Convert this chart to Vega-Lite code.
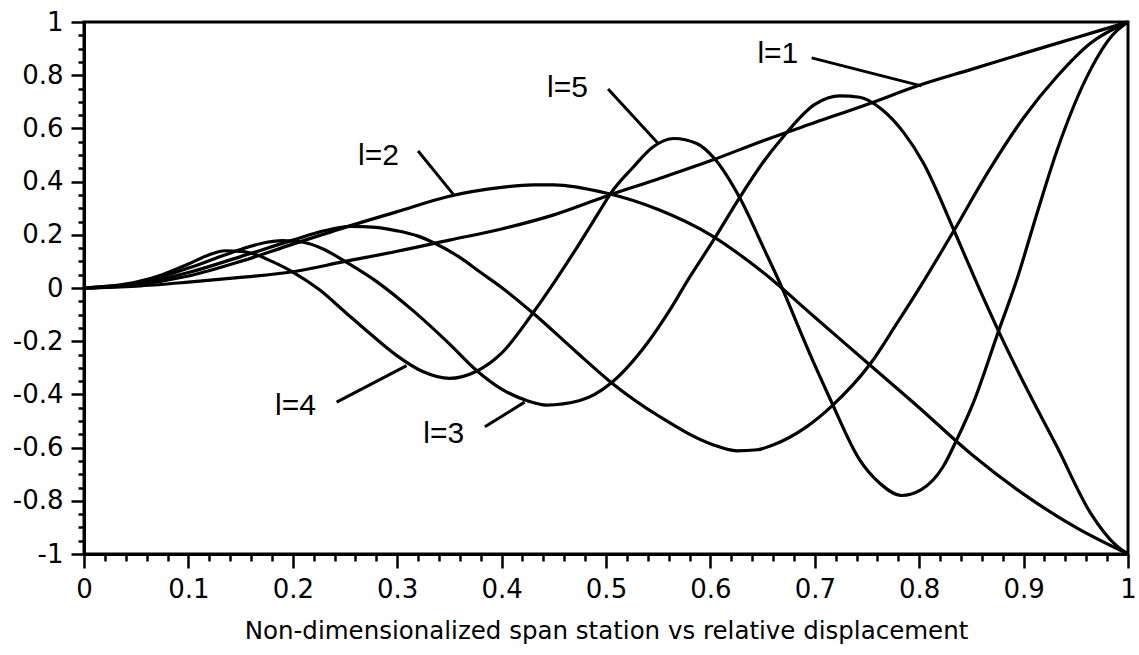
{
  "$schema": "https://vega.github.io/schema/vega-lite/v6.json",
  "width": 1044,
  "height": 532,
  "autosize": {"type": "none"},
  "padding": {"left": 84, "top": 22, "right": 11, "bottom": 101},
  "background": "white",
  "config": {
    "view": {"stroke": "black", "strokeWidth": 3},
    "axis": {"grid": false, "domainColor": "black", "domainWidth": 3, "tickColor": "black", "tickWidth": 2.5, "labelColor": "black", "labelFont": "DejaVu Sans", "labelFontSize": 26, "labelOverlap": false, "labelBound": false, "labelFlush": false, "titleColor": "black", "titleFont": "DejaVu Sans", "titleFontSize": 24.5, "titleFontWeight": "normal"}
  },
  "resolve": {"axis": {"x": "independent", "y": "independent"}},
  "datasets": {
    "curves": [
      {"s":"1","x":0,"y":0},{"s":"1","x":0.05,"y":0.007},{"s":"1","x":0.1,"y":0.022},{"s":"1","x":0.15,"y":0.04},{"s":"1","x":0.2,"y":0.061},{"s":"1","x":0.25,"y":0.1},{"s":"1","x":0.3,"y":0.138},{"s":"1","x":0.35,"y":0.18},{"s":"1","x":0.4,"y":0.222},{"s":"1","x":0.45,"y":0.275},{"s":"1","x":0.5,"y":0.345},{"s":"1","x":0.55,"y":0.41},{"s":"1","x":0.6,"y":0.478},{"s":"1","x":0.65,"y":0.553},{"s":"1","x":0.7,"y":0.622},{"s":"1","x":0.75,"y":0.69},{"s":"1","x":0.8,"y":0.762},{"s":"1","x":0.85,"y":0.822},{"s":"1","x":0.9,"y":0.882},{"s":"1","x":0.95,"y":0.941},{"s":"1","x":1,"y":1},
      {"s":"2","x":0,"y":0},{"s":"2","x":0.05,"y":0.012},{"s":"2","x":0.1,"y":0.045},{"s":"2","x":0.15,"y":0.1},{"s":"2","x":0.2,"y":0.165},{"s":"2","x":0.25,"y":0.228},{"s":"2","x":0.3,"y":0.287},{"s":"2","x":0.35,"y":0.345},{"s":"2","x":0.4,"y":0.378},{"s":"2","x":0.43,"y":0.388},{"s":"2","x":0.45,"y":0.388},{"s":"2","x":0.5,"y":0.357},{"s":"2","x":0.55,"y":0.295},{"s":"2","x":0.6,"y":0.2},{"s":"2","x":0.65,"y":0.06},{"s":"2","x":0.7,"y":-0.11},{"s":"2","x":0.75,"y":-0.28},{"s":"2","x":0.8,"y":-0.45},{"s":"2","x":0.85,"y":-0.625},{"s":"2","x":0.9,"y":-0.775},{"s":"2","x":0.95,"y":-0.9},{"s":"2","x":1,"y":-1},
      {"s":"3","x":0,"y":0},{"s":"3","x":0.05,"y":0.015},{"s":"3","x":0.1,"y":0.058},{"s":"3","x":0.15,"y":0.118},{"s":"3","x":0.2,"y":0.18},{"s":"3","x":0.23,"y":0.215},{"s":"3","x":0.255,"y":0.232},{"s":"3","x":0.28,"y":0.228},{"s":"3","x":0.3,"y":0.215},{"s":"3","x":0.32,"y":0.195},{"s":"3","x":0.335,"y":0.17},{"s":"3","x":0.36,"y":0.115},{"s":"3","x":0.38,"y":0.058},{"s":"3","x":0.4,"y":0.002},{"s":"3","x":0.43,"y":-0.094},{"s":"3","x":0.47,"y":-0.235},{"s":"3","x":0.504,"y":-0.352},{"s":"3","x":0.552,"y":-0.485},{"s":"3","x":0.603,"y":-0.59},{"s":"3","x":0.625,"y":-0.612},{"s":"3","x":0.645,"y":-0.608},{"s":"3","x":0.66,"y":-0.59},{"s":"3","x":0.692,"y":-0.522},{"s":"3","x":0.716,"y":-0.445},{"s":"3","x":0.753,"y":-0.286},{"s":"3","x":0.778,"y":-0.137},{"s":"3","x":0.804,"y":0.024},{"s":"3","x":0.833,"y":0.214},{"s":"3","x":0.865,"y":0.43},{"s":"3","x":0.9,"y":0.64},{"s":"3","x":0.932,"y":0.795},{"s":"3","x":0.964,"y":0.92},{"s":"3","x":1,"y":1},
      {"s":"4","x":0,"y":0},{"s":"4","x":0.05,"y":0.018},{"s":"4","x":0.1,"y":0.075},{"s":"4","x":0.125,"y":0.11},{"s":"4","x":0.15,"y":0.145},{"s":"4","x":0.175,"y":0.172},{"s":"4","x":0.19,"y":0.178},{"s":"4","x":0.21,"y":0.172},{"s":"4","x":0.23,"y":0.145},{"s":"4","x":0.25,"y":0.1},{"s":"4","x":0.28,"y":0.025},{"s":"4","x":0.316,"y":-0.088},{"s":"4","x":0.35,"y":-0.21},{"s":"4","x":0.376,"y":-0.31},{"s":"4","x":0.4,"y":-0.38},{"s":"4","x":0.424,"y":-0.423},{"s":"4","x":0.443,"y":-0.44},{"s":"4","x":0.475,"y":-0.423},{"s":"4","x":0.504,"y":-0.36},{"s":"4","x":0.52,"y":-0.3},{"s":"4","x":0.54,"y":-0.205},{"s":"4","x":0.56,"y":-0.09},{"s":"4","x":0.58,"y":0.04},{"s":"4","x":0.603,"y":0.18},{"s":"4","x":0.628,"y":0.34},{"s":"4","x":0.65,"y":0.47},{"s":"4","x":0.668,"y":0.56},{"s":"4","x":0.7,"y":0.69},{"s":"4","x":0.724,"y":0.722},{"s":"4","x":0.743,"y":0.717},{"s":"4","x":0.764,"y":0.672},{"s":"4","x":0.785,"y":0.585},{"s":"4","x":0.804,"y":0.47},{"s":"4","x":0.833,"y":0.22},{"s":"4","x":0.855,"y":0.02},{"s":"4","x":0.876,"y":-0.162},{"s":"4","x":0.899,"y":-0.348},{"s":"4","x":0.932,"y":-0.597},{"s":"4","x":0.964,"y":-0.845},{"s":"4","x":0.989,"y":-0.969},{"s":"4","x":1,"y":-1},
      {"s":"5","x":0,"y":0},{"s":"5","x":0.05,"y":0.022},{"s":"5","x":0.075,"y":0.05},{"s":"5","x":0.1,"y":0.09},{"s":"5","x":0.12,"y":0.125},{"s":"5","x":0.135,"y":0.14},{"s":"5","x":0.15,"y":0.138},{"s":"5","x":0.165,"y":0.125},{"s":"5","x":0.18,"y":0.1},{"s":"5","x":0.2,"y":0.06},{"s":"5","x":0.225,"y":-0.005},{"s":"5","x":0.25,"y":-0.09},{"s":"5","x":0.275,"y":-0.175},{"s":"5","x":0.3,"y":-0.255},{"s":"5","x":0.325,"y":-0.315},{"s":"5","x":0.35,"y":-0.34},{"s":"5","x":0.375,"y":-0.315},{"s":"5","x":0.4,"y":-0.245},{"s":"5","x":0.43,"y":-0.094},{"s":"5","x":0.451,"y":0.025},{"s":"5","x":0.475,"y":0.17},{"s":"5","x":0.494,"y":0.29},{"s":"5","x":0.504,"y":0.353},{"s":"5","x":0.526,"y":0.454},{"s":"5","x":0.545,"y":0.53},{"s":"5","x":0.565,"y":0.562},{"s":"5","x":0.587,"y":0.543},{"s":"5","x":0.604,"y":0.486},{"s":"5","x":0.628,"y":0.34},{"s":"5","x":0.651,"y":0.15},{"s":"5","x":0.668,"y":0.006},{"s":"5","x":0.686,"y":-0.162},{"s":"5","x":0.7,"y":-0.29},{"s":"5","x":0.715,"y":-0.42},{"s":"5","x":0.743,"y":-0.646},{"s":"5","x":0.762,"y":-0.733},{"s":"5","x":0.783,"y":-0.78},{"s":"5","x":0.802,"y":-0.758},{"s":"5","x":0.823,"y":-0.671},{"s":"5","x":0.836,"y":-0.57},{"s":"5","x":0.852,"y":-0.43},{"s":"5","x":0.876,"y":-0.162},{"s":"5","x":0.893,"y":0.025},{"s":"5","x":0.912,"y":0.27},{"s":"5","x":0.932,"y":0.517},{"s":"5","x":0.964,"y":0.82},{"s":"5","x":0.985,"y":0.95},{"s":"5","x":1,"y":1}
    ],
    "pointers": [
      {"x":0.697,"y":0.865,"x2":0.802,"y2":0.76},
      {"x":0.502,"y":0.748,"x2":0.55,"y2":0.543},
      {"x":0.32,"y":0.515,"x2":0.354,"y2":0.351},
      {"x":0.242,"y":-0.429,"x2":0.309,"y2":-0.292},
      {"x":0.384,"y":-0.522,"x2":0.422,"y2":-0.429}
    ],
    "labels": [
      {"t":"l=1","x":0.645,"y":0.847},
      {"t":"l=5","x":0.4435,"y":0.718},
      {"t":"l=2","x":0.2625,"y":0.461},
      {"t":"l=4","x":0.183,"y":-0.479},
      {"t":"l=3","x":0.325,"y":-0.583}
    ]
  },
  "layer": [
    {
      "data": {"name": "curves"},
      "mark": {"type": "line", "color": "black", "strokeWidth": 3.2, "interpolate": "monotone", "strokeJoin": "round"},
      "encoding": {
        "x": {
          "field": "x", "type": "quantitative",
          "scale": {"domain": [0, 1], "nice": false, "zero": false},
          "axis": {
            "orient": "bottom",
            "title": "Non-dimensionalized span station vs relative displacement",
            "titlePadding": 17,
            "values": [0,0.1,0.2,0.3,0.4,0.5,0.6,0.7,0.8,0.9,1],
            "labelExpr": "'' + datum.value",
            "labelPadding": 8,
            "tickSize": 14
          }
        },
        "y": {
          "field": "y", "type": "quantitative",
          "scale": {"domain": [-1, 1], "nice": false, "zero": false},
          "axis": {
            "orient": "left",
            "title": null,
            "values": [-1,-0.8,-0.6,-0.4,-0.2,0,0.2,0.4,0.6,0.8,1],
            "labelExpr": "'' + datum.value",
            "labelPadding": 8,
            "tickSize": 13
          }
        },
        "detail": {"field": "s"}
      }
    },
    {
      "data": {"name": "pointers"},
      "mark": {"type": "rule", "color": "black", "strokeWidth": 3},
      "encoding": {
        "x": {
          "field": "x", "type": "quantitative",
          "axis": {
            "orient": "bottom", "title": null, "labels": false, "domain": false, "tickSize": 7,
            "values": [0.02,0.04,0.06,0.08,0.12,0.14,0.16,0.18,0.22,0.24,0.26,0.28,0.32,0.34,0.36,0.38,0.42,0.44,0.46,0.48,0.52,0.54,0.56,0.58,0.62,0.64,0.66,0.68,0.72,0.74,0.76,0.78,0.82,0.84,0.86,0.88,0.92,0.94,0.96,0.98]
          }
        },
        "y": {
          "field": "y", "type": "quantitative",
          "axis": {
            "orient": "left", "title": null, "labels": false, "domain": false, "tickSize": 6,
            "values": [-0.95,-0.9,-0.85,-0.75,-0.7,-0.65,-0.55,-0.5,-0.45,-0.35,-0.3,-0.25,-0.15,-0.1,-0.05,0.05,0.1,0.15,0.25,0.3,0.35,0.45,0.5,0.55,0.65,0.7,0.75,0.85,0.9,0.95]
          }
        },
        "x2": {"field": "x2"},
        "y2": {"field": "y2"}
      }
    },
    {
      "data": {"name": "labels"},
      "mark": {"type": "text", "font": "Liberation Sans", "fontSize": 30, "align": "left", "baseline": "alphabetic", "color": "black"},
      "encoding": {
        "x": {"field": "x", "type": "quantitative", "axis": null},
        "y": {"field": "y", "type": "quantitative", "axis": null},
        "text": {"field": "t"}
      }
    }
  ]
}
